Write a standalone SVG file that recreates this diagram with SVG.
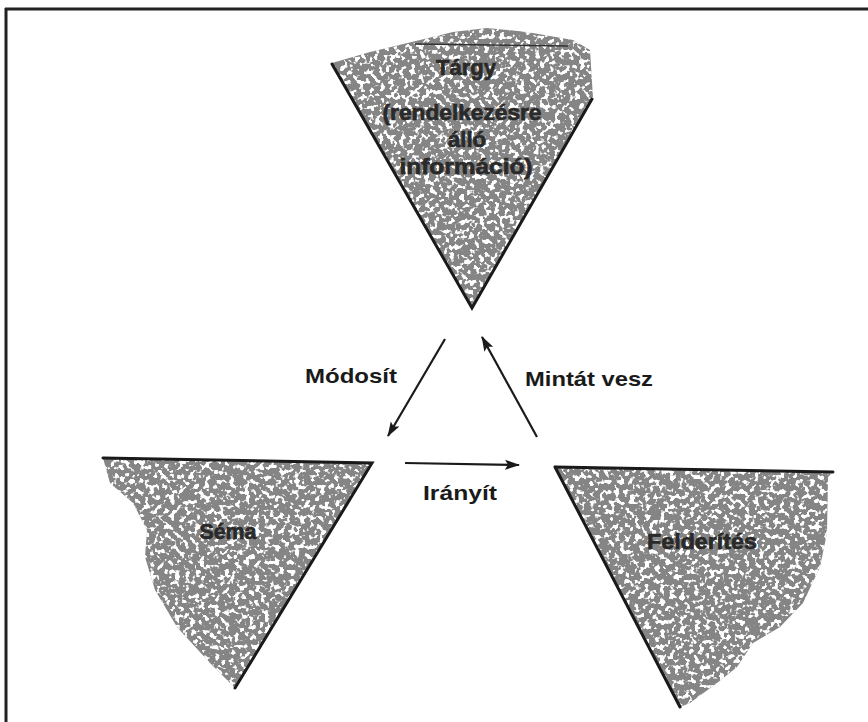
<svg xmlns="http://www.w3.org/2000/svg" width="868" height="722" viewBox="0 0 868 722">
<style>
.shape{fill:#858585;filter:url(#speck)}
.edge{stroke:#1a1a1a;stroke-width:3;fill:none;stroke-linecap:round}
.inlab{font-family:"Liberation Sans",Arial,sans-serif;font-weight:bold;font-size:22px;fill:#2a2a2a;stroke:#2a2a2a;stroke-width:0.7;text-anchor:middle}
.lab{font-family:"Liberation Sans",Arial,sans-serif;font-weight:bold;font-size:21px;fill:#1a1a1a}
.conn{stroke:#1a1a1a;stroke-width:2.2;fill:none}
</style>
<defs>
<filter id="speck" x="0" y="0" width="1" height="1">
<feTurbulence type="fractalNoise" baseFrequency="0.2" numOctaves="2" seed="7" result="noise"/>
<feColorMatrix in="noise" type="matrix" values="0 0 0 0 1 0 0 0 0 1 0 0 0 0 1 12 0 0 0 -6.5" result="spots"/>
<feComposite in="spots" in2="SourceGraphic" operator="in" result="clipped"/>
<feMerge><feMergeNode in="SourceGraphic"/><feMergeNode in="clipped"/></feMerge>
</filter>
<marker id="ah" markerUnits="userSpaceOnUse" markerWidth="16" markerHeight="12" refX="14" refY="6" orient="auto">
<path d="M0,1 L15,6 L0,11 L3,6 Z" fill="#1a1a1a"/>
</marker>
</defs>
<rect width="868" height="722" fill="#fff"/>
<path d="M5,9 H868 M6,8 V722" stroke="#222" stroke-width="3" fill="none"/>

<g id="targy">
<path class="shape" d="M332,63 L370,52 L420,40 L453,32 L487,28 L527,32 L573,40 L590,50 L593,98 L472,308 Z"/>
<path class="edge" d="M332,64 L472,308 L592,99"/>
<path d="M415,44 L568,46" stroke="#333" stroke-width="1.5" fill="none"/>
<text class="inlab" x="466" y="75">Tárgy</text>
<text class="inlab" x="462" y="120" textLength="159" lengthAdjust="spacingAndGlyphs">(rendelkezésre</text>
<text class="inlab" x="467" y="147">álló</text>
<text class="inlab" x="466" y="174" textLength="133" lengthAdjust="spacingAndGlyphs">információ)</text>
</g>

<g id="sema">
<path class="shape" d="M103,458 L372,463 L235,688 L210,663 L177,627 L155,590 L145,557 L147,530 L133,503 L110,483 Z"/>
<path class="edge" d="M103,458 L372,463 L235,688"/>
<text class="inlab" x="228" y="539" textLength="57" lengthAdjust="spacingAndGlyphs">Séma</text>
</g>

<g id="felderites">
<path class="shape" d="M555,467 L833,472 L828,477 L827,533 L820,567 L803,603 L780,627 L753,643 L737,667 L717,683 L690,703 L680,707 Z"/>
<path class="edge" d="M555,467 L833,472 M555,467 L680,707"/>
<text class="inlab" x="702" y="549" textLength="110" lengthAdjust="spacingAndGlyphs">Felderítés</text>
</g>

<g id="connectors">
<line class="conn" x1="445" y1="339" x2="388" y2="436" marker-end="url(#ah)"/>
<line class="conn" x1="537" y1="437" x2="482" y2="337" marker-end="url(#ah)"/>
<line class="conn" x1="405" y1="463" x2="519" y2="465" marker-end="url(#ah)"/>
<text class="lab" x="305" y="383" textLength="92" lengthAdjust="spacingAndGlyphs">Módosít</text>
<text class="lab" x="525" y="386" textLength="128" lengthAdjust="spacingAndGlyphs">Mintát vesz</text>
<text class="lab" x="423" y="500" textLength="74" lengthAdjust="spacingAndGlyphs">Irányít</text>
</g>
</svg>
